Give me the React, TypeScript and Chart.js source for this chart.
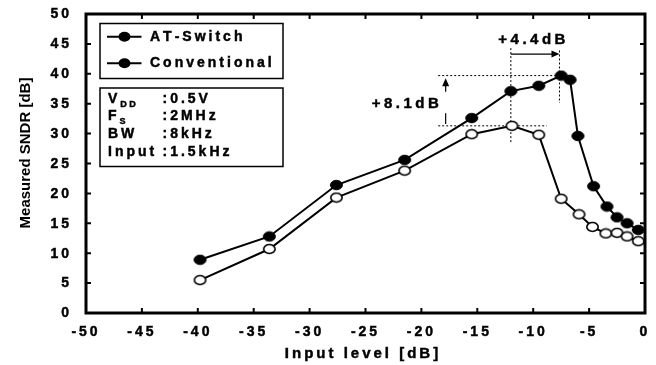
import React, { useEffect, useRef } from "react";
import { Chart, registerables } from "chart.js";

Chart.register(...registerables);

// ---- data ----
const atSwitchX = [-39.8, -33.6, -27.6, -21.5, -15.5, -12.0, -9.5, -7.5, -6.7, -6.0, -4.6, -3.4, -2.5, -1.6, -0.6];
const atSwitchY = [8.9, 12.8, 21.4, 25.6, 32.6, 37.1, 38.0, 39.7, 39.0, 29.6, 21.2, 17.8, 16.0, 15.0, 13.9];
const conventionalX = [-39.8, -33.6, -27.6, -21.5, -15.5, -11.9, -9.5, -7.5, -5.9, -4.7, -3.5, -2.5, -1.6, -0.6];
const conventionalY = [5.5, 10.7, 19.3, 23.8, 29.9, 31.3, 29.8, 19.1, 16.5, 14.4, 13.3, 13.4, 12.8, 12.0];
const seriesNames = ["AT-Switch", "Conventional"];
const xTicks = [-50, -45, -40, -35, -30, -25, -20, -15, -10, -5, 0];
const yTicks = [0, 5, 10, 15, 20, 25, 30, 35, 40, 45, 50];
const xTitle = "Input level [dB]";
const yTitle = "Measured SNDR [dB]";
const infoRows = [
  { main: "V", sub: "DD", value: ":0.5V" },
  { main: "F", sub: "S", value: ":2MHz" },
  { main: "BW", sub: "", value: ":8kHz" },
  { main: "Input", sub: "", value: ":1.5kHz" },
];
const gainLabelX = "+4.4dB";
const gainLabelY = "+8.1dB";

const FONT = "'Liberation Sans', Arial, sans-serif";

function spacedWidth(ctx: CanvasRenderingContext2D, s: string, sp: number) {
  let w = 0;
  for (const ch of s) w += ctx.measureText(ch).width;
  return w + sp * Math.max(0, s.length - 1);
}

function drawSpaced(
  ctx: CanvasRenderingContext2D,
  s: string,
  x: number,
  y: number,
  align: "left" | "center" | "right",
  font: string,
  sp: number
) {
  ctx.save();
  ctx.font = font;
  ctx.fillStyle = "#000";
  ctx.strokeStyle = "#000";
  ctx.lineWidth = 0.45;
  ctx.textAlign = "left";
  ctx.textBaseline = "middle";
  const w = spacedWidth(ctx, s, sp);
  let cx = align === "left" ? x : align === "center" ? x - w / 2 : x - w;
  for (const ch of s) {
    ctx.fillText(ch, cx, y);
    ctx.strokeText(ch, cx, y);
    cx += ctx.measureText(ch).width + sp;
  }
  ctx.restore();
  return w;
}

function arrowHead(ctx: CanvasRenderingContext2D, x: number, y: number, dir: "right" | "up") {
  ctx.beginPath();
  if (dir === "right") {
    ctx.moveTo(x, y);
    ctx.lineTo(x - 8, y - 3.5);
    ctx.lineTo(x - 8, y + 3.5);
  } else {
    ctx.moveTo(x, y);
    ctx.lineTo(x - 3.5, y + 8);
    ctx.lineTo(x + 3.5, y + 8);
  }
  ctx.closePath();
  ctx.fill();
}

function makeMarker(fill: string, w: number, h: number, bw: number) {
  const c = document.createElement("canvas");
  c.width = w + 2;
  c.height = h + 2;
  const g = c.getContext("2d")!;
  g.beginPath();
  g.ellipse(c.width / 2, c.height / 2, w / 2 - bw / 2, h / 2 - bw / 2, 0, 0, Math.PI * 2);
  g.fillStyle = fill;
  g.fill();
  g.lineWidth = bw;
  g.strokeStyle = "#000";
  g.stroke();
  return c;
}

const decorPlugin = {
  id: "decor",
  beforeDatasetsDraw(chart: any) {
    const ctx: CanvasRenderingContext2D = chart.ctx;
    const xs = chart.scales.x;
    const ys = chart.scales.y;
    const px = (v: number) => xs.getPixelForValue(v);
    const py = (v: number) => ys.getPixelForValue(v);
    ctx.save();
    ctx.strokeStyle = "#000";
    ctx.fillStyle = "#000";
    ctx.lineWidth = 1;
    ctx.setLineDash([2, 2]);
    const hpeak = py(39.7);
    const hconv = py(31.3);
    const line = (x1: number, y1: number, x2: number, y2: number) => {
      ctx.beginPath();
      ctx.moveTo(x1, y1);
      ctx.lineTo(x2, y2);
      ctx.stroke();
    };
    line(px(-18.5), hpeak, px(-7.5), hpeak);
    line(px(-18.5), hconv, px(-8.8), hconv);
    line(px(-12.0), py(44.3), px(-12.0), py(28.4));
    line(px(-7.65), py(43.9), px(-7.65), py(35.1));
    ctx.setLineDash([]);
    ctx.lineWidth = 1.2;
    const ay = py(43.3);
    line(px(-12.0), ay, px(-7.65) - 6, ay);
    arrowHead(ctx, px(-7.65), ay, "right");
    const ux = px(-17.83);
    line(ux, py(37.0), ux, py(39.25) + 6);
    arrowHead(ctx, ux, py(39.25), "up");
    line(ux, py(33.4), ux, py(31.6));
    ctx.restore();
    drawSpaced(ctx, gainLabelX, px(-12.0) + 21, py(44.3) - 8.5, "center", `bold 15px ${FONT}`, 3.5);
    drawSpaced(ctx, gainLabelY, px(-21.45), py(34.9), "center", `bold 15px ${FONT}`, 3.5);
  },
  afterDraw(chart: any) {
    const ctx: CanvasRenderingContext2D = chart.ctx;
    const a = chart.chartArea;
    const xs = chart.scales.x;
    const ys = chart.scales.y;
    ctx.save();
    ctx.strokeStyle = "#000";
    ctx.lineWidth = 2;
    for (const v of xTicks) {
      const x = xs.getPixelForValue(v);
      ctx.beginPath();
      ctx.moveTo(x, a.bottom);
      ctx.lineTo(x, a.bottom - 5);
      ctx.moveTo(x, a.top);
      ctx.lineTo(x, a.top + 5);
      ctx.stroke();
    }
    for (const v of yTicks) {
      const y = ys.getPixelForValue(v);
      ctx.beginPath();
      ctx.moveTo(a.left, y);
      ctx.lineTo(a.left + 5, y);
      ctx.moveTo(a.right, y);
      ctx.lineTo(a.right - 5, y);
      ctx.stroke();
    }
    ctx.lineWidth = 3;
    ctx.strokeRect(a.left, a.top, a.right - a.left, a.bottom - a.top);
    ctx.restore();

    const tickFont = `bold 14px ${FONT}`;
    for (const v of xTicks) {
      drawSpaced(ctx, String(v), xs.getPixelForValue(v) - 1.5, a.bottom + 19, "center", tickFont, 3);
    }
    for (const v of yTicks) {
      drawSpaced(ctx, String(v), a.left - 17, ys.getPixelForValue(v) + 0.5, "right", tickFont, 3);
    }
    drawSpaced(ctx, xTitle, (a.left + a.right) / 2 - 4, a.bottom + 41, "center", `bold 15px ${FONT}`, 3);

    ctx.save();
    ctx.translate(26, 153);
    ctx.rotate(-Math.PI / 2);
    ctx.font = `bold 15px ${FONT}`;
    ctx.fillStyle = "#000";
    ctx.textAlign = "center";
    ctx.textBaseline = "middle";
    ctx.fillText(yTitle, 0, 0);
    ctx.restore();

    // legend box
    ctx.save();
    ctx.fillStyle = "#fff";
    ctx.strokeStyle = "#000";
    ctx.lineWidth = 1.5;
    ctx.fillRect(100, 23.5, 183, 55);
    ctx.strokeRect(100, 23.5, 183, 55);
    const legY = [36.8, 63.3];
    seriesNames.forEach((name, i) => {
      const y = legY[i];
      ctx.strokeStyle = "#000";
      ctx.lineWidth = 2;
      ctx.beginPath();
      ctx.moveTo(107, y);
      ctx.lineTo(141.5, y);
      ctx.stroke();
      ctx.fillStyle = "#000";
      ctx.beginPath();
      ctx.ellipse(124.5, y, 6, 5, 0, 0, Math.PI * 2);
      ctx.fill();
      drawSpaced(ctx, name, 150, y, "left", `bold 14px ${FONT}`, 3);
    });
    // info box
    ctx.fillStyle = "#fff";
    ctx.strokeStyle = "#000";
    ctx.lineWidth = 1.5;
    ctx.fillRect(100, 88, 183, 78.5);
    ctx.strokeRect(100, 88, 183, 78.5);
    const rowY = [99.3, 116.6, 134.5, 152.6];
    infoRows.forEach((r, i) => {
      const y = rowY[i];
      const w = drawSpaced(ctx, r.main, 108, y, "left", `bold 14px ${FONT}`, 3);
      if (r.sub) {
        drawSpaced(ctx, r.sub, 108 + w + 3, y + 5, "left", `bold 9px ${FONT}`, 2.5);
      }
      drawSpaced(ctx, r.value, 162.5, y, "left", `bold 14px ${FONT}`, 3);
    });
    ctx.restore();
  },
};

export default function App() {
  const ref = useRef<HTMLCanvasElement | null>(null);
  useEffect(() => {
    if (!ref.current) return;
    const filledMarker = makeMarker("#000", 13, 10.5, 1);
    const openMarker = makeMarker("#fff", 13, 10.5, 1.6);
    const chart = new Chart(ref.current, {
      type: "line",
      data: {
        datasets: [
          {
            label: seriesNames[0],
            data: atSwitchX.map((x, i) => ({ x, y: atSwitchY[i] })),
            borderColor: "#000",
            borderWidth: 2,
            pointStyle: filledMarker as any,
            pointRadius: 6,
            tension: 0,
            clip: false as any,
          },
          {
            label: seriesNames[1],
            data: conventionalX.map((x, i) => ({ x, y: conventionalY[i] })),
            borderColor: "#000",
            borderWidth: 2,
            pointStyle: openMarker as any,
            pointRadius: 6,
            tension: 0,
            clip: false as any,
          },
        ],
      },
      options: {
        responsive: false,
        animation: false,
        devicePixelRatio: 1,
        layout: { padding: { left: 86, top: 14, right: 11, bottom: 52 } },
        scales: {
          x: { type: "linear", min: -50, max: 0, display: false },
          y: { type: "linear", min: 0, max: 50, display: false },
        },
        plugins: { legend: { display: false }, tooltip: { enabled: false } },
        events: [],
      },
      plugins: [decorPlugin],
    });
    return () => chart.destroy();
  }, []);
  return (
    <div style={{ position: "fixed", left: 0, top: 0, width: 656, height: 365, background: "#fff" }}>
      <canvas ref={ref} width={656} height={365} style={{ display: "block" }} />
    </div>
  );
}
